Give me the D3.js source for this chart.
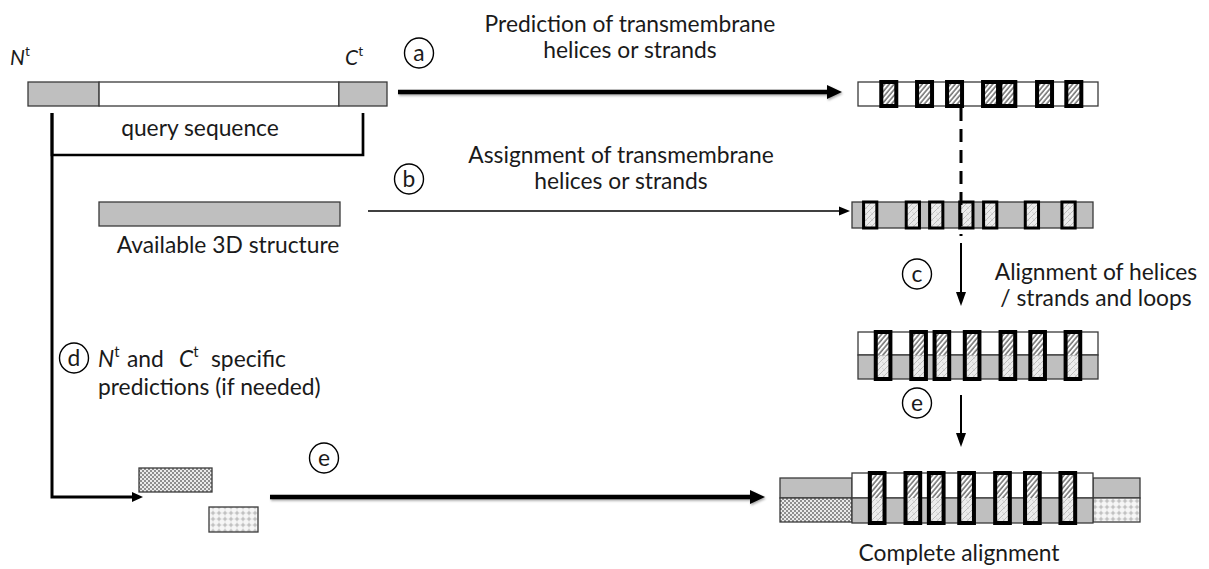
<!DOCTYPE html>
<html>
<head>
<meta charset="utf-8">
<script src="https://cdn.jsdelivr.net/npm/d3@7"></script>
<style>
  body { margin: 0; background: #fff; }
  svg { display: block; }
  text { font-family: Lato, 'Open Sans', sans-serif; fill: #1a1a1a; }
</style>
</head>
<body>
<svg id="fig" width="1209" height="569"></svg>
<script>
// helix starts, in % of the sequence length
const predictedHelices = [9.7, 24.6, 37.1, 52.1, 59.3, 74.6, 86.8];
const assignedHelices = [4.8, 22.5, 32.2, 44.7, 54.6, 71.9, 87.1];
const alignedHelices = [7.4, 22.2, 31.9, 44.5, 59.4, 71.8, 86.5];
const helixWidth = { predicted: 6.25, assigned: 5.5, aligned: 6.1 };

// query sequence split: N-term tail, core, C-term tail (% of length)
const querySegments = [
  { from: 0, to: 19.8, kind: 'tail' },
  { from: 19.8, to: 86.6, kind: 'core' },
  { from: 86.6, to: 100, kind: 'tail' },
];

const stepLabels = ['a', 'b', 'c', 'd', 'e'];
const captions = {
  a: ['Prediction of transmembrane', 'helices or strands'],
  b: ['Assignment of transmembrane', 'helices or strands'],
  c: ['Alignment of helices', '/ strands and loops'],
  d: ['predictions (if needed)'],
  query: 'query sequence',
  structure: 'Available 3D structure',
  complete: 'Complete alignment',
};

const GRAY = '#bfbfbf';
const EDGE = '#3a3a3a';

const svg = d3.select('#fig');

// Lato stands in for Calibri: size it so widths match the original
const probe = svg.append('text').attr('font-size', 24).text(captions.a[0]);
const fs = (24 * 291) / probe.node().getComputedTextLength();
probe.remove();

const defs = svg.append('defs');

// predicted helix: white with dark "///" hatch
const hp = defs.append('pattern').attr('id', 'hatchPred')
  .attr('patternUnits', 'userSpaceOnUse').attr('width', 3.6).attr('height', 3.6)
  .attr('patternTransform', 'rotate(40)');
hp.append('rect').attr('width', 3.6).attr('height', 3.6).attr('fill', '#fff');
hp.append('line').attr('x1', 1).attr('x2', 1).attr('y1', 0).attr('y2', 3.6)
  .attr('stroke', '#6c6c6c').attr('stroke-width', 1.5);

// assigned helix: pale grey with faint crossing strokes
const ha = defs.append('pattern').attr('id', 'hatchAssign')
  .attr('patternUnits', 'userSpaceOnUse').attr('width', 6).attr('height', 6);
ha.append('rect').attr('width', 6).attr('height', 6).attr('fill', '#ececec');
ha.append('path').attr('d', 'M0,6L6,0M-1,1L1,-1M5,7L7,5')
  .attr('stroke', '#bdbdbd').attr('stroke-width', 1);
ha.append('path').attr('d', 'M0,2Q2,3 3,5')
  .attr('stroke', '#cfcfcf').attr('stroke-width', 0.8).attr('fill', 'none');

// checkerboard N-term prediction
const ck = defs.append('pattern').attr('id', 'checker')
  .attr('patternUnits', 'userSpaceOnUse').attr('width', 4).attr('height', 4);
ck.append('rect').attr('width', 4).attr('height', 4).attr('fill', '#ebebeb');
ck.append('rect').attr('width', 2).attr('height', 2).attr('fill', '#8e8e8e');
ck.append('rect').attr('x', 2).attr('y', 2).attr('width', 2).attr('height', 2).attr('fill', '#8e8e8e');

// dotted C-term prediction
const dt = defs.append('pattern').attr('id', 'dots')
  .attr('patternUnits', 'userSpaceOnUse').attr('width', 6).attr('height', 6);
dt.append('rect').attr('width', 6).attr('height', 6).attr('fill', '#f6f6f6');
dt.append('path').attr('d', 'M0,3H6M3,0V6').attr('stroke', '#dddddd').attr('stroke-width', 0.8);
dt.append('circle').attr('cx', 3).attr('cy', 3).attr('r', 1.7).attr('fill', '#c2c2c2');

const sh = defs.append('filter').attr('id', 'shadow')
  .attr('x', '-5%').attr('y', '-100%').attr('width', '110%').attr('height', '300%');
sh.append('feDropShadow').attr('dx', 1).attr('dy', 1.5).attr('stdDeviation', 1.2)
  .attr('flood-color', '#000').attr('flood-opacity', 0.35);

function box(x0, x1, y, h, fill, g = svg) {
  return g.append('rect').attr('x', x0).attr('y', y).attr('width', x1 - x0).attr('height', h)
    .attr('fill', fill).attr('stroke', EDGE).attr('stroke-width', 1.3);
}

function helices(data, width, scale, y, h, fills, sw) {
  const g = svg.append('g');
  const cols = g.selectAll('g').data(data).enter().append('g');
  const w = scale(width) - scale(0);
  if (fills.length === 1) {
    cols.append('rect').attr('x', (d) => scale(d)).attr('y', y)
      .attr('width', w).attr('height', h).attr('fill', fills[0]);
  } else {
    cols.append('rect').attr('x', (d) => scale(d)).attr('y', y)
      .attr('width', w).attr('height', h / 2).attr('fill', fills[0]);
    cols.append('rect').attr('x', (d) => scale(d)).attr('y', y + h / 2)
      .attr('width', w).attr('height', h / 2).attr('fill', fills[1]);
  }
  cols.append('rect').attr('x', (d) => scale(d)).attr('y', y)
    .attr('width', w).attr('height', h).attr('fill', 'none')
    .attr('stroke', '#000').attr('stroke-width', sw);
}

function arrow(pts, w, headLen, headW, shadow) {
  const g = svg.append('g');
  if (shadow) g.attr('filter', 'url(#shadow)');
  const [x2, y2] = pts[pts.length - 1];
  const [xp, yp] = pts[pts.length - 2];
  const L = Math.hypot(x2 - xp, y2 - yp);
  const ux = (x2 - xp) / L, uy = (y2 - yp) / L;
  const bx = x2 - ux * headLen, by = y2 - uy * headLen;
  const line = pts.slice(0, -1).concat([[bx + ux, by + uy]]);
  g.append('path').attr('d', d3.line()(line)).attr('fill', 'none')
    .attr('stroke', '#000').attr('stroke-width', w);
  g.append('path')
    .attr('d', `M${x2},${y2}L${bx - (uy * headW) / 2},${by + (ux * headW) / 2}L${bx + (uy * headW) / 2},${by - (ux * headW) / 2}Z`)
    .attr('fill', '#000');
}

function stepCircle(label, cx, cy) {
  svg.append('ellipse').attr('cx', cx).attr('cy', cy).attr('rx', 14.5).attr('ry', 15)
    .attr('fill', '#fff').attr('stroke', '#000').attr('stroke-width', 1.4);
  svg.append('text').attr('x', cx).attr('y', cy + fs * 0.33).attr('text-anchor', 'middle')
    .attr('font-size', fs).text(label);
}

function caption(lines, x, y, anchor = 'middle', lh = 26) {
  const t = svg.append('text').attr('font-size', fs).attr('text-anchor', anchor);
  lines.forEach((s, i) => t.append('tspan').attr('x', x).attr('y', y + i * lh).text(s));
}

// ---- query sequence ----
const xq = d3.scaleLinear().domain([0, 100]).range([28, 387]);
querySegments.forEach((s) => box(xq(s.from), xq(s.to), 82, 24, s.kind === 'tail' ? GRAY : '#fff'));

function termLabel(letter, x, y, size) {
  const t = svg.append('text').attr('x', x).attr('y', y).attr('font-size', size);
  t.append('tspan').attr('font-style', 'italic').text(letter);
  t.append('tspan').attr('font-size', size * 0.65).attr('dy', -size * 0.42).text('t');
}
termLabel('N', 10, 65, 21);
termLabel('C', 345, 65, 21);

// bracket under the query
svg.append('path').attr('d', 'M52,113V155H363V113')
  .attr('fill', 'none').attr('stroke', '#000').attr('stroke-width', 2.7);
caption([captions.query], 200, 136);

// ---- available structure ----
box(99, 340, 202, 24, GRAY);
caption([captions.structure], 228, 253);

// ---- (a) prediction ----
arrow([[398, 92], [842, 92]], 4.5, 15, 14, true);
stepCircle(stepLabels[0], 419, 53);
caption(captions.a, 630, 32);
const xa = d3.scaleLinear().domain([0, 100]).range([858, 1098]);
box(xa(0), xa(100), 82, 24, '#fff');
helices(predictedHelices, helixWidth.predicted, xa, 82, 24, ['url(#hatchPred)'], 4);

// ---- (b) assignment ----
arrow([[368, 211], [850, 211]], 1.5, 11, 9, false);
stepCircle(stepLabels[1], 409, 179);
caption(captions.b, 621, 163);
const xb = d3.scaleLinear().domain([0, 100]).range([852, 1093]);
box(xb(0), xb(100), 202, 26, GRAY);
helices(assignedHelices, helixWidth.assigned, xb, 202, 26, ['url(#hatchAssign)'], 3);

svg.append('line').attr('x1', 961).attr('x2', 961).attr('y1', 108).attr('y2', 236)
  .attr('stroke', '#000').attr('stroke-width', 3).attr('stroke-dasharray', '13,8');

// ---- (c) alignment ----
arrow([[961, 243], [961, 306]], 2, 14, 10, false);
stepCircle(stepLabels[2], 917, 274);
caption(captions.c, 1096, 280);
const xc = d3.scaleLinear().domain([0, 100]).range([858, 1098]);
box(xc(0), xc(100), 332, 23, '#fff');
box(xc(0), xc(100), 355, 24, GRAY);
helices(alignedHelices, helixWidth.aligned, xc, 332, 47, ['url(#hatchPred)', 'url(#hatchAssign)'], 4);

// ---- (e) vertical ----
arrow([[961, 395], [961, 447]], 2, 14, 10, false);
stepCircle(stepLabels[4], 917, 403);

// ---- (d) termini ----
arrow([[52, 113], [52, 497], [143, 497]], 3, 11, 10, false);
stepCircle(stepLabels[3], 74, 358);
const dl = svg.append('text').attr('y', 367).attr('font-size', fs);
dl.append('tspan').attr('x', 98).attr('font-style', 'italic').text('N');
dl.append('tspan').attr('font-size', fs * 0.65).attr('dy', -fs * 0.42).text('t');
dl.append('tspan').attr('x', 127).attr('dy', fs * 0.42).text('and');
dl.append('tspan').attr('x', 179).attr('font-style', 'italic').text('C');
dl.append('tspan').attr('font-size', fs * 0.65).attr('dy', -fs * 0.42).text('t');
dl.append('tspan').attr('x', 211).attr('dy', fs * 0.42).text('specific');
caption(captions.d, 98, 395, 'start');

box(139, 212, 468, 24, 'url(#checker)');
box(209, 258, 507, 25, 'url(#dots)');

// ---- (e) complete ----
arrow([[270, 497], [765, 497]], 4.5, 15, 14, true);
stepCircle(stepLabels[4], 324, 458);

const xe = d3.scaleLinear().domain([0, 100]).range([852, 1093]);
box(780, 852, 478, 20, GRAY);
box(780, 852, 498, 24, 'url(#checker)');
box(1093, 1140, 478, 20, GRAY);
box(1093, 1140, 498, 24, 'url(#dots)');
box(xe(0), xe(100), 473, 25, '#fff');
box(xe(0), xe(100), 498, 25, GRAY);
helices(alignedHelices, helixWidth.aligned, xe, 473, 50, ['url(#hatchPred)', 'url(#hatchAssign)'], 4);
caption([captions.complete], 959, 561);
</script>
</body>
</html>
